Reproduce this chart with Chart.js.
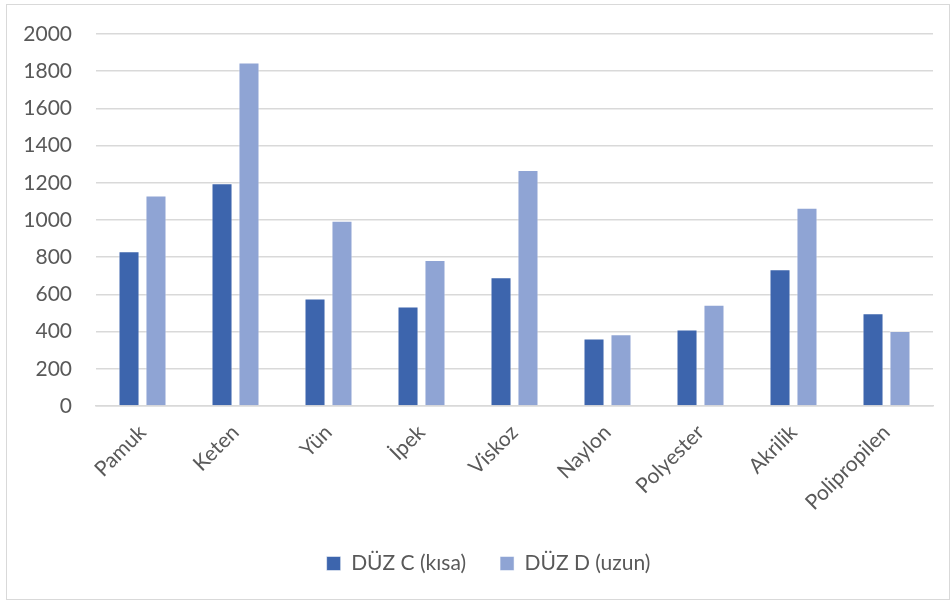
<!DOCTYPE html>
<html>
<head>
<meta charset="utf-8">
<script src="https://cdn.jsdelivr.net/npm/chart.js@4.4.1/dist/chart.umd.min.js"></script>
<style>
  html, body { margin: 0; padding: 0; background: #fff; }
  #frame {
    position: absolute; left: 6px; top: 4px; width: 944px; height: 596px;
    border: 1px solid #d9d9d9; box-sizing: border-box;
  }
  #wrap { position: absolute; left: 0; top: 0; width: 952px; height: 604px; }
</style>
</head>
<body>
<div id="frame"></div>
<div id="wrap"><canvas id="chart"></canvas></div>
<script>
// Fibre types and the two measurement series
var fibres = ["Pamuk", "Keten", "Yün", "İpek", "Viskoz", "Naylon", "Polyester", "Akrilik", "Polipropilen"];
var duzC = [832, 1198, 578, 535, 692, 363, 411, 735, 498];
var duzD = [1132, 1847, 996, 785, 1269, 386, 545, 1066, 403];
var yTicks = [0, 200, 400, 600, 800, 1000, 1200, 1400, 1600, 1800, 2000];

var textColor = "#595959";
var gridColor = "#d9d9d9";
var fontFamily = "Lato, 'Open Sans', sans-serif";

// nudge the legend so it sits under the middle of the whole frame
const legendShift = {
  id: "legendShift",
  afterLayout(chart) {
    var lg = chart.legend;
    if (!lg) return;
    lg.left += 22;
    lg.right += 22;
  },
};

const chartData = {
  labels: fibres,
  datasets: [
    {
      label: "DÜZ C (kısa)",
      data: duzC,
      backgroundColor: "#3d65ad",
      borderColor: "rgba(255,255,255,0.5)",
      borderWidth: 1,
    },
    {
      label: "DÜZ D (uzun)",
      data: duzD,
      backgroundColor: "#8fa4d4",
      borderColor: "rgba(255,255,255,0.5)",
      borderWidth: 1,
    },
  ],
};

const chartConfig = {
  type: "bar",
  data: chartData,
  plugins: [legendShift],
  options: {
    responsive: true,
    maintainAspectRatio: false,
    animation: false,
    layout: { padding: { top: 34, right: 19, bottom: 20, left: 0 } },
    datasets: { bar: { categoryPercentage: 0.58, barPercentage: 0.78 } },
    plugins: {
      tooltip: { enabled: false },
      legend: {
        position: "bottom",
        labels: {
          color: textColor,
          font: { family: fontFamily, size: 21 },
          boxWidth: 14,
          boxHeight: 14,
          padding: 34,
        },
      },
    },
    scales: {
      x: {
        grid: { display: false },
        border: { display: true, color: gridColor, width: 1.5 },
        ticks: {
          color: textColor,
          font: { family: fontFamily, size: 21 },
          minRotation: 45,
          maxRotation: 45,
          padding: 6,
        },
        afterFit: function (scale) { scale.height = 113; },
      },
      y: {
        min: 0,
        max: 2000,
        afterBuildTicks: function (scale) {
          scale.ticks = yTicks.map(function (v) { return { value: v }; });
        },
        grid: { color: gridColor, lineWidth: 1.5, drawTicks: false },
        border: { display: false },
        ticks: {
          color: textColor,
          font: { family: fontFamily, size: 21 },
          padding: 24,
          callback: function (value) { return String(value); },
        },
        afterFit: function (scale) {
          // fixed axis width, no extra room for the outer tick labels
          scale.width = 96;
          scale.paddingTop = 0;
          scale.paddingBottom = 0;
        },
      },
    },
  },
};

new Chart(document.getElementById("chart").getContext("2d"), chartConfig);
</script>
</body>
</html>
